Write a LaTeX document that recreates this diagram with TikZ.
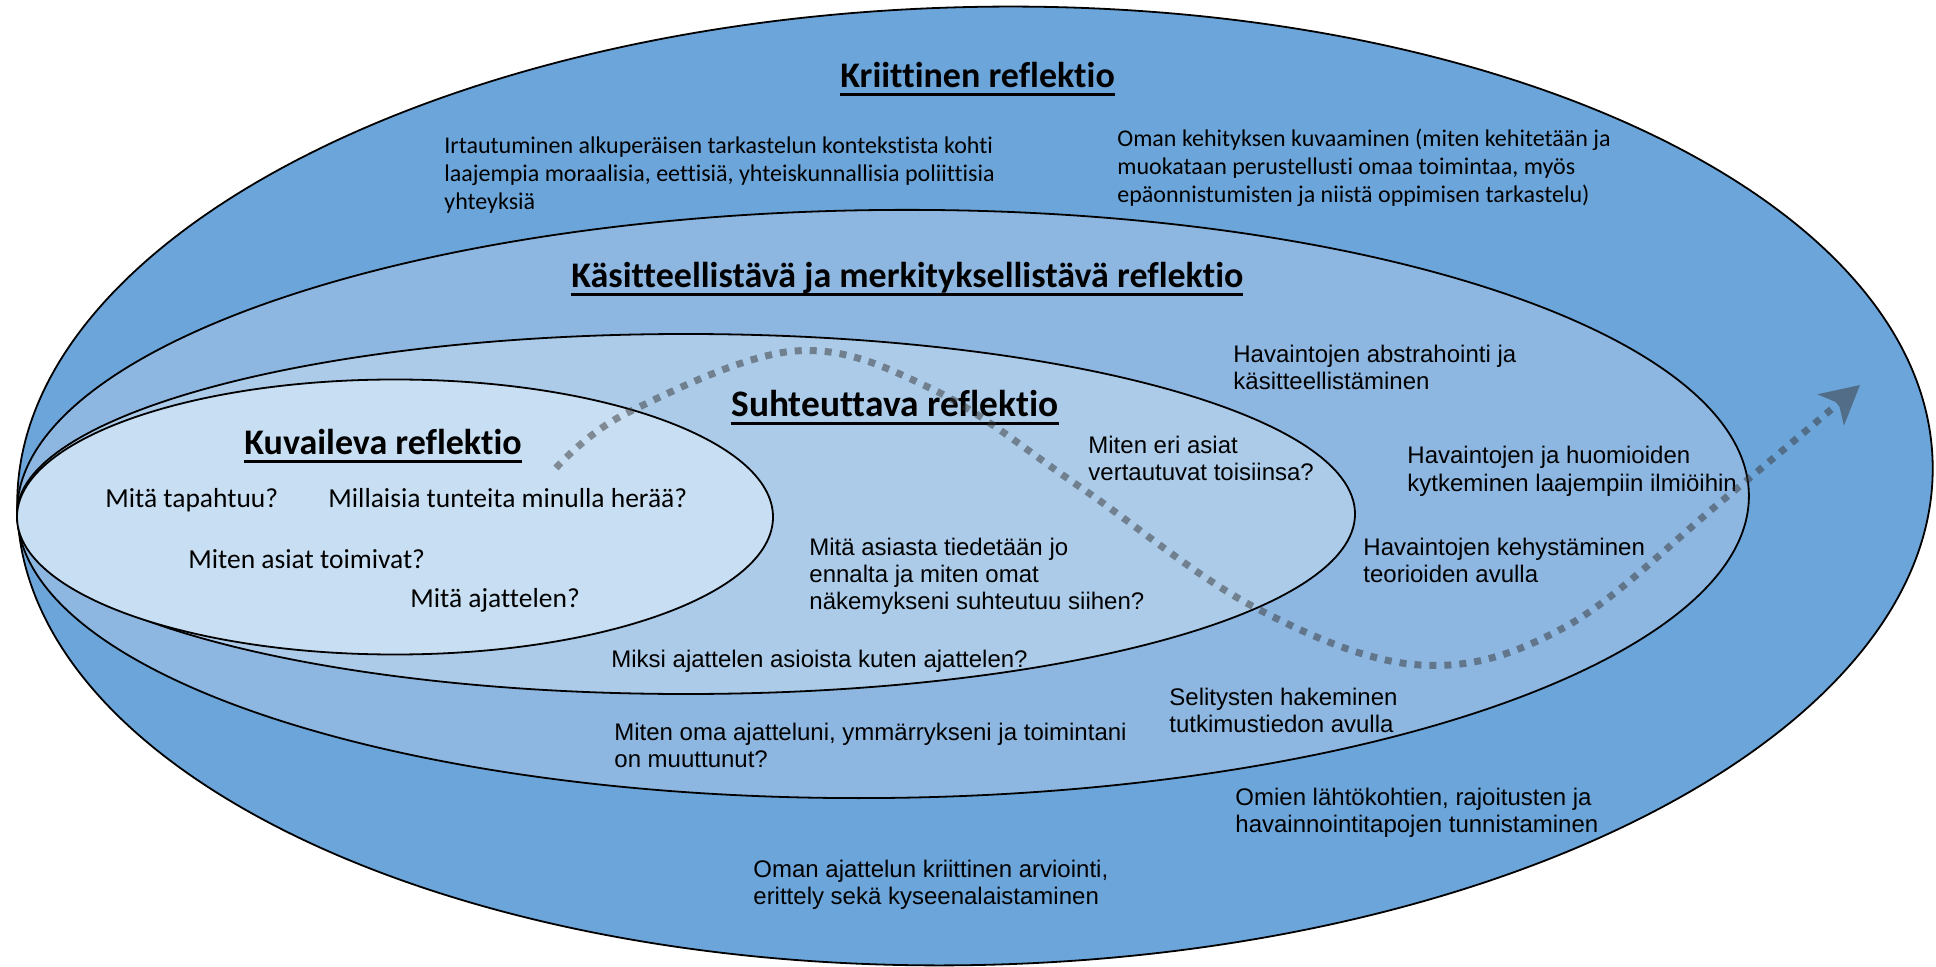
\documentclass[tikz,border=0pt]{standalone}
\usepackage{fontspec}
\setmainfont{Carlito}
\newfontfamily\calfont[Ligatures=NoCommon]{Carlito}
\newfontfamily\arialfont{Liberation Sans}
\usetikzlibrary{arrows.meta}
\definecolor{outerc}{HTML}{6CA5D9}
\definecolor{kasc}{HTML}{8DB7E1}
\definecolor{suhc}{HTML}{ABCBE9}
\definecolor{kuvc}{HTML}{C8DEF2}
\definecolor{dotc}{HTML}{373737}
\newcommand{\myul}[1]{\setbox0=\hbox{#1}\rlap{\rule[-4pt]{\wd0}{1.5pt}}\box0}
\newcommand{\txtlines}[1]{\begin{tabular}[t]{@{}l@{}}#1\end{tabular}}
\begin{document}
\begin{tikzpicture}[x=0.5pt,y=-0.5pt,
  ring/.style={draw=black, line width=0.9pt},
  title/.style={anchor=base west, inner sep=0pt, font=\calfont\bfseries\fontsize{18}{21}\selectfont},
  caltxt/.style={anchor=base west, inner sep=0pt, font=\calfont\fontsize{12}{14}\selectfont},
  qtxt/.style={anchor=base west, inner sep=0pt, font=\calfont\fontsize{13.75}{16}\selectfont},
  artxt/.style={anchor=base west, inner sep=0pt, font=\arialfont\fontsize{12}{13.5}\selectfont},
  dotline/.style={draw=dotc, line width=3.5pt, line cap=butt,
     dash pattern=on 3.5pt off 4pt, -{Stealth[length=19pt, width=20pt, inset=5pt]}}
]
\useasboundingbox (0,0) rectangle (1936,967);

% ellipses
\coordinate (cOuter) at (975,486);
\coordinate (cKas) at (883,504);
\coordinate (cSuh) at (686,514);
\coordinate (cKuv) at (395,517);
\fill[outerc, rotate around={1.4:(cOuter)}] (cOuter) ellipse [x radius=958, y radius=479];
\draw[ring, rotate around={1.4:(cOuter)}] (cOuter) ellipse [x radius=958, y radius=479];
\fill[kasc, rotate around={0.6:(cKas)}] (cKas) ellipse [x radius=866, y radius=294];
\draw[ring, rotate around={0.6:(cKas)}] (cKas) ellipse [x radius=866, y radius=294];
\fill[suhc] (cSuh) ellipse [x radius=669, y radius=180];
\draw[ring] (cSuh) ellipse [x radius=669, y radius=180];
\fill[kuvc] (cKuv) ellipse [x radius=378, y radius=137.5];
\draw[ring] (cKuv) ellipse [x radius=378, y radius=137.5];

% titles
\node[title] (tKri) at (840,88) {\myul{Kriittinen reflektio}};
\node[title] (tKas) at (571,288) {\myul{Käsitteellistävä ja merkityksellistävä reflektio}};
\node[title, font=\calfont\bfseries\fontsize{18.7}{21}\selectfont] (tSuh) at (731,417) {\myul{Suhteuttava reflektio}};
\node[title] (tKuv) at (244,455) {\myul{Kuvaileva reflektio}};

% outer ring texts
\node[caltxt] (irt) at (444,154) {\txtlines{Irtautuminen alkuperäisen tarkastelun kontekstista kohti\\laajempia moraalisia, eettisiä, yhteiskunnallisia poliittisia\\yhteyksiä}};
\node[caltxt] (oma) at (1117,147) {\txtlines{Oman kehityksen kuvaaminen (miten kehitetään ja\\muokataan perustellusti omaa toimintaa, myös\\epäonnistumisten ja niistä oppimisen tarkastelu)}};
\node[artxt] (omien) at (1235,805) {\txtlines{Omien lähtökohtien, rajoitusten ja\\havainnointitapojen tunnistaminen}};
\node[artxt] (omaaj) at (753,877) {\txtlines{Oman ajattelun kriittinen arviointi,\\erittely sekä kyseenalaistaminen}};

% kasitteellistava texts
\node[artxt] (abs) at (1233,363) {\txtlines{Havaintojen abstrahointi ja\\käsitteellistäminen}};
\node[artxt] (kyt) at (1407,464) {\txtlines{Havaintojen ja huomioiden\\kytkeminen laajempiin ilmiöihin}};
\node[artxt] (keh) at (1363,555) {\txtlines{Havaintojen kehystäminen\\teorioiden avulla}};
\node[artxt] (sel) at (1169,705) {\txtlines{Selitysten hakeminen\\tutkimustiedon avulla}};
\node[artxt] (muut) at (614,740) {\txtlines{Miten oma ajatteluni, ymmärrykseni ja toimintani\\on muuttunut?}};

% suhteuttava texts
\node[artxt] (ver) at (1088,453) {\txtlines{Miten eri asiat\\vertautuvat toisiinsa?}};
\node[artxt] (tied) at (809,555) {\txtlines{Mitä asiasta tiedetään jo\\ennalta ja miten omat\\näkemykseni suhteutuu siihen?}};
\node[artxt] (miksi) at (611,667) {Miksi ajattelen asioista kuten ajattelen?};

% kuvaileva texts
\node[qtxt] (q1) at (105,508) {Mitä tapahtuu?};
\node[qtxt] (q2) at (328,508) {Millaisia tunteita minulla herää?};
\node[qtxt] (q3) at (188,568) {Miten asiat toimivat?};
\node[qtxt] (q4) at (410,607) {Mitä ajattelen?};

% dotted wave arrow
\coordinate (w0) at (556,468);
\coordinate (w1) at (627,413);
\coordinate (w2) at (795,351);
\coordinate (w3) at (934,390);
\coordinate (w4) at (1080,487);
\coordinate (w5) at (1254,607);
\coordinate (w6) at (1420,665);
\coordinate (w7) at (1565,627);
\coordinate (w8) at (1723,500);
\coordinate (w9) at (1860,385);
\begin{scope}[transparency group, opacity=0.5]
\draw[dotline] plot[smooth, tension=0.6] coordinates {(w0) (w1) (w2) (w3) (w4) (w5) (w6) (w7) (w8) (w9)};
\end{scope}
\end{tikzpicture}
\end{document}
